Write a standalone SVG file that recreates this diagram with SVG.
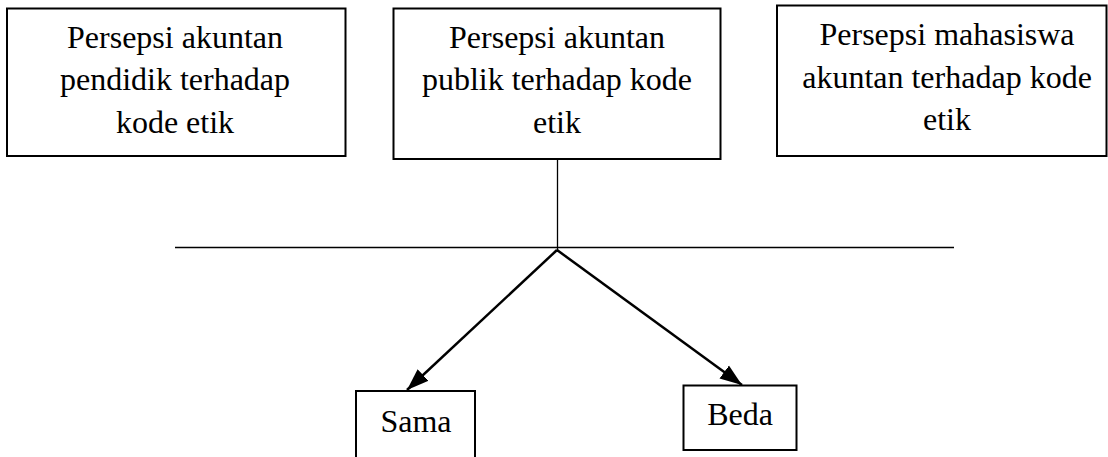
<svg xmlns="http://www.w3.org/2000/svg" width="1108" height="457" viewBox="0 0 1108 457">
<style>
.box{fill:#fff;stroke:#000;stroke-width:2}
.t{font-family:"Liberation Serif","Times New Roman",serif;font-size:32px;fill:#000;text-anchor:middle}
.thin{stroke:#000;stroke-width:1.3;fill:none}
.arr{stroke:#000;stroke-width:2.5;fill:none}
</style>
<defs>
<marker id="ah" markerUnits="userSpaceOnUse" markerWidth="24" markerHeight="20" viewBox="0 0 24 20" refX="22" refY="10" orient="auto">
<path d="M0,2 L22,10 L0,18 Z" fill="#000"/>
</marker>
</defs>
<g id="connectors">
<line class="thin" x1="557.5" y1="159" x2="557.5" y2="252"/>
<line class="thin" x1="175" y1="247.5" x2="954" y2="247.5"/>
<line class="arr" x1="557" y1="250" x2="407" y2="390" marker-end="url(#ah)"/>
<line class="arr" x1="557" y1="250" x2="742" y2="385" marker-end="url(#ah)"/>
</g>
<g id="node-pendidik">
<rect class="box" x="7" y="8.5" width="338.5" height="147.5"/>
<text class="t" x="175" y="48">Persepsi akuntan</text>
<text class="t" x="175" y="90">pendidik terhadap</text>
<text class="t" x="175" y="133">kode etik</text>
</g>
<g id="node-publik">
<rect class="box" x="393.5" y="8.5" width="327" height="150.5"/>
<text class="t" x="557" y="48">Persepsi akuntan</text>
<text class="t" x="557" y="90">publik terhadap kode</text>
<text class="t" x="557" y="133">etik</text>
</g>
<g id="node-mahasiswa">
<rect class="box" x="777" y="5.5" width="329.5" height="150.5"/>
<text class="t" x="947" y="45">Persepsi mahasiswa</text>
<text class="t" x="947" y="88">akuntan terhadap kode</text>
<text class="t" x="947" y="130">etik</text>
</g>
<g id="node-sama">
<rect class="box" x="356" y="391" width="119" height="70"/>
<text class="t" x="416" y="432">Sama</text>
</g>
<g id="node-beda">
<rect class="box" x="683.5" y="385.5" width="113" height="64.5"/>
<text class="t" x="740" y="425">Beda</text>
</g>
</svg>
